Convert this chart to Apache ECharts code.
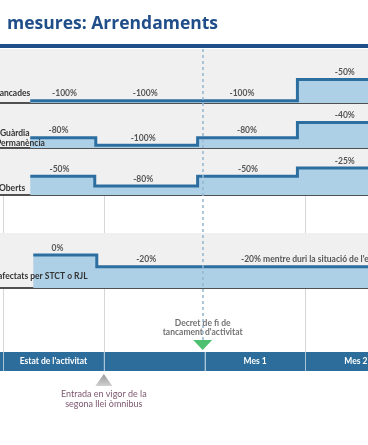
<!DOCTYPE html>
<html>
<head>
<meta charset="utf-8">
<script src="https://cdn.jsdelivr.net/npm/echarts@6/dist/echarts.min.js"></script>
<style>
html,body{margin:0;padding:0;background:#fff;}
#chart{width:368px;height:445px;}
</style>
</head>
<body>
<div id="chart"></div>
<script>
// ---- data ----
const titleText = 'mesures: Arrendaments';
const rowNames = ['tancades', 'Guàrdia', 'Permanència', 'Oberts', 'afectats per STCT o RJL'];

// step change positions (in months on the timeline) and reduction levels (%)
const row1X = [0.27, 2.92, 3.62];
const row1Pct = [-100, -50, -50];
const row2X = [0.27, 0.92, 1.93, 2.92, 3.62];
const row2Pct = [-80, -100, -80, -40, -40];
const row3X = [0.27, 0.91, 1.93, 2.92, 3.62];
const row3Pct = [-50, -80, -50, -25, -25];
const row4X = [0.30, 0.93, 3.62];
const row4Pct = [0, -20, -20];

// labels of each segment
const row1LabX = [0.61, 1.41, 2.37, 3.39];
const row1LabPct = [-100, -100, -100, -50];
const row2LabX = [0.55, 1.39, 2.42, 3.39];
const row2LabPct = [-80, -100, -80, -40];
const row3LabX = [0.56, 1.39, 2.43, 3.39];
const row3LabPct = [-50, -80, -50, -25];
const row4LabX = [0.54, 1.42, 2.36];
const row4LabPct = [0, -20, -20];
const row4LabText = ['0%', '-20%', "-20% mentre duri la situació de l'estat d'alarma"];

// timeline cells
const cellStart = [-1, 0, 1, 2, 3];
const cellLabels = ['', "Estat de l'activitat", '', 'Mes 1', 'Mes 2'];

// events
const eventX = [1, 1.98];
const eventText = ['Entrada en vigor de la\nsegona llei òmnibus', "Decret de fi de\ntancament d'activitat"];

// ---- styling / layout ----
const xMin = -0.03, xMax = 3.62;
const lineColor = '#2d6ea0', fillColor = '#aed0e6', bgColor = '#f0f0f0';
const font = 'Lato, "Open Sans", sans-serif';

function yRange(top, height, anchorVal, anchorPx, ppu) {
  const bottom = top + height;
  return { min: anchorVal - (bottom - anchorPx) / ppu, max: anchorVal + (anchorPx - top) / ppu };
}

const rowGrids = [
  { top: 49, height: 54, r: yRange(49, 54, -100, 100.7, 0.424) },
  { top: 104, height: 44, r: yRange(104, 44, -100, 145.3, 0.38) },
  { top: 149, height: 46, r: yRange(149, 46, -80, 186, 0.327) },
  { top: 233, height: 55, r: yRange(233, 55, 0, 255, 0.585) }
];
const otherGrids = [
  { top: 196, height: 37 },  // spacer 4
  { top: 289, height: 63 },  // spacer 5
  { top: 352, height: 19 },  // timeline 6
  { top: 49, height: 291 }   // dashed overlay 7
];

const grid = [];
const xAxis = [];
const yAxis = [];
rowGrids.forEach((g) => {
  grid.push({ left: 0, right: 0, top: g.top, height: g.height, show: true, backgroundColor: bgColor, borderWidth: 0 });
  xAxis.push({ gridIndex: grid.length - 1, type: 'value', min: xMin, max: xMax,
    axisLine: { show: true, onZero: false, lineStyle: { color: '#505050', width: 2 } },
    axisTick: { show: false }, axisLabel: { show: false }, splitLine: { show: false } });
  yAxis.push({ gridIndex: grid.length - 1, type: 'value', min: g.r.min, max: g.r.max, show: false });
});
otherGrids.forEach((g) => {
  grid.push({ left: 0, right: 0, top: g.top, height: g.height });
  xAxis.push({ gridIndex: grid.length - 1, type: 'value', min: xMin, max: xMax, show: false });
  yAxis.push({ gridIndex: grid.length - 1, type: 'value', min: 0, max: 1, show: false });
});

const rows = [
  [row1X, row1Pct, row1LabX, row1LabPct, null],
  [row2X, row2Pct, row2LabX, row2LabPct, null],
  [row3X, row3Pct, row3LabX, row3LabPct, null],
  [row4X, row4Pct, row4LabX, row4LabPct, row4LabText]
];

const series = [];
// solid separators in white gaps
[4, 5].forEach((gi) => {
  series.push({
    type: 'line', xAxisIndex: gi, yAxisIndex: gi, data: [[0, 0]], showSymbol: false, silent: true,
    lineStyle: { opacity: 0 },
    markLine: { silent: true, symbol: 'none', label: { show: false },
      lineStyle: { color: '#d6d6d6', width: 1, type: 'solid' },
      data: [{ xAxis: 0 }, { xAxis: 1 }, { xAxis: 3 }] }
  });
});

rows.forEach((r, i) => {
  const [xs, ps, lx, lp, lt] = r;
  series.push({
    type: 'line', xAxisIndex: i, yAxisIndex: i, step: 'end', symbol: 'none', silent: true,
    data: xs.map((x, k) => [x, ps[k]]),
    lineStyle: { color: lineColor, width: 3, join: 'miter' },
    areaStyle: { color: fillColor, opacity: 1, origin: 'start' },
    z: 2
  });
  series.push({
    type: 'scatter', xAxisIndex: i, yAxisIndex: i, symbolSize: 1, silent: true,
    itemStyle: { color: 'rgba(0,0,0,0)' },
    data: lx.map((x, k) => {
      const text = lt ? lt[k] : lp[k] + '%';
      const long = text.length > 6;
      return { value: [x, lp[k]], name: text,
        label: { align: long ? 'left' : 'center' } };
    }),
    label: { show: true, formatter: '{b}', position: 'inside', offset: [0, -7],
      color: '#2e2e2e', fontSize: 8.5, fontWeight: 700, fontFamily: font, verticalAlign: 'middle' },
    z: 5
  });
});

// timeline bar
series.push({
  type: 'custom', xAxisIndex: 6, yAxisIndex: 6, silent: true,
  data: cellStart.map((x) => [x]),
  renderItem: function (params, api) {
    const x = api.value(0);
    const p0 = api.coord([x, 1]);
    const p1 = api.coord([x + 1, 0]);
    return {
      type: 'group',
      children: [
        { type: 'rect', shape: { x: p0[0], y: p0[1], width: p1[0] - p0[0], height: p1[1] - p0[1] },
          style: { fill: '#2d6d9c' },
          textContent: { style: { text: cellLabels[params.dataIndex], fill: '#ffffff', font: 'bold 8.5px ' + font } },
          textConfig: { position: 'inside' } },
        { type: 'line', shape: { x1: Math.round(p0[0]) + 0.5, y1: p0[1], x2: Math.round(p0[0]) + 0.5, y2: p1[1] },
          style: { stroke: '#a9c4da', lineWidth: 1 } }
      ]
    };
  },
  z: 3
});

// event markers
series.push({
  type: 'scatter', xAxisIndex: 6, yAxisIndex: 6, silent: true,
  data: [
    { value: [eventX[0], 0], name: eventText[0], symbol: 'triangle', symbolSize: [17, 12], symbolOffset: [0, 9],
      itemStyle: { color: new echarts.graphic.LinearGradient(0, 0, 0, 1, [{ offset: 0, color: '#808080' }, { offset: 1, color: '#c4c4c4' }]) },
      label: { show: true, position: 'bottom', distance: 3, color: '#5a2a48', fontSize: 9, lineHeight: 10, fontFamily: font } },
    { value: [eventX[1], 1], name: eventText[1], symbol: 'triangle', symbolRotate: 180, symbolSize: [19, 10], symbolOffset: [0, -7],
      itemStyle: { color: '#22b14c' },
      label: { show: true, position: 'top', distance: 3, color: '#4d4d4d', fontSize: 8.5, lineHeight: 9, fontFamily: font, fontWeight: 700 } }
  ],
  label: { formatter: '{b}', align: 'center' },
  z: 6
});

// dashed decree line
series.push({
  type: 'line', xAxisIndex: 7, yAxisIndex: 7, data: [[0, 0]], showSymbol: false, silent: true,
  lineStyle: { opacity: 0 },
  markLine: { silent: true, symbol: 'none', label: { show: false },
    lineStyle: { color: '#94b6cf', width: 1.5, type: [3, 3] },
    data: [{ xAxis: eventX[1] }] },
  z: 8
});

const chart = echarts.init(document.getElementById('chart'), null, { renderer: 'canvas' });
chart.setOption({
  animation: false,
  backgroundColor: '#ffffff',
  title: { text: titleText, left: 2, top: 10,
    textStyle: { fontFamily: '"Open Sans", sans-serif', fontWeight: 'bold', fontSize: 17.5, color: '#1f4e89' } },
  graphic: [
    { type: 'rect', shape: { x: 0, y: 44, width: 368, height: 4 }, style: { fill: '#1f4e89' }, z: 10 },
    { type: 'text', x: -3.5, y: 93.5, style: { text: rowNames[0], font: 'bold 8.5px ' + font, fill: '#333', verticalAlign: 'middle' }, z: 10 },
    { type: 'text', x: 0, y: 133, style: { text: rowNames[1], font: 'bold 8.5px ' + font, fill: '#333', verticalAlign: 'middle' }, z: 10 },
    { type: 'text', x: -4, y: 143.5, style: { text: rowNames[2], font: 'bold 8.5px ' + font, fill: '#333', verticalAlign: 'middle' }, z: 10 },
    { type: 'text', x: -1, y: 188, style: { text: rowNames[3], font: 'bold 8.5px ' + font, fill: '#333', verticalAlign: 'middle' }, z: 10 },
    { type: 'text', x: -2, y: 276.5, style: { text: rowNames[4], font: 'bold 8.5px ' + font, fill: '#333', verticalAlign: 'middle' }, z: 10 }
  ],
  grid, xAxis, yAxis, series
});
</script>
</body>
</html>
